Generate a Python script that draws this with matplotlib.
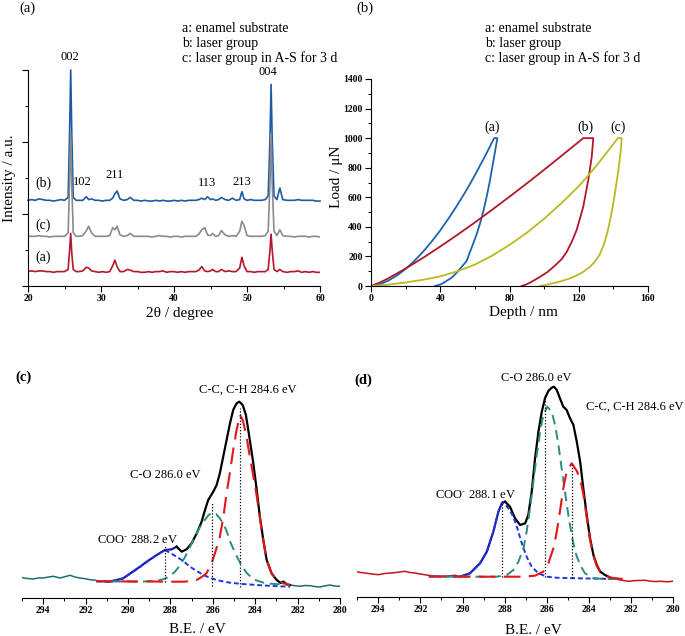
import numpy as np
import matplotlib
matplotlib.use("Agg")
import matplotlib.pyplot as plt
from matplotlib.ticker import MultipleLocator

plt.rcParams['font.family'] = ['Liberation Serif', 'DejaVu Serif']
plt.rcParams['mathtext.fontset'] = 'stix'

# ---------------- (a) XRD ----------------
two_theta = [20.0, 20.5, 21.0, 21.5, 22.0, 22.5, 23.0, 23.5, 24.0, 24.5,
             25.0, 25.5, 25.7, 25.85, 26.0, 26.2, 26.6, 27.0, 27.5, 28.0,
             28.3, 28.7, 29.2, 29.7, 30.2, 30.7, 31.2, 31.6, 31.9, 32.2,
             32.6, 33.1, 33.6, 34.0, 34.5, 35.0, 35.5, 36.0, 36.5, 37.0,
             37.5, 38.0, 38.5, 39.0, 39.5, 40.0, 40.5, 41.0, 41.5, 42.0,
             42.5, 43.0, 43.4, 43.8, 44.2, 44.6, 45.0, 45.3, 45.7, 46.1,
             46.5, 47.0, 47.5, 48.0, 48.5, 49.0, 49.3, 49.6, 50.0, 50.5,
             51.0, 51.5, 52.0, 52.5, 52.9, 53.15, 53.3, 53.45, 53.7, 54.1,
             54.5, 54.9, 55.5, 56.0, 56.5, 57.0, 57.5, 58.0, 58.5, 59.0,
             59.5, 60.0]
# enamel substrate
xrd_a = [.05, .06, .05, .06, .06, .05, .05, .04, .05, .05,
         .05, .08, .35, .58, .30, .08, .05, .05, .06, .11,
         .10, .06, .05, .04, .05, .04, .05, .13, .21, .12,
         .05, .05, .08, .07, .05, .05, .04, .04, .05, .04,
         .05, .05, .06, .04, .05, .05, .04, .05, .04, .05,
         .05, .05, .07, .12, .06, .05, .06, .08, .05, .05,
         .08, .05, .06, .05, .05, .10, .25, .13, .05, .05,
         .04, .05, .05, .05, .08, .35, .57, .35, .08, .05,
         .08, .05, .04, .05, .05, .06, .04, .05, .04, .05,
         .04, .04]
# laser group
xrd_b = [.04, .05, .04, .06, .05, .04, .04, .03, .04, .05,
         .04, .08, 1.00, 1.85, .95, .08, .04, .04, .04, .09,
         .05, .06, .04, .04, .03, .04, .04, .07, .13, .17,
         .06, .04, .05, .08, .04, .04, .03, .04, .03, .03,
         .04, .03, .04, .03, .03, .04, .03, .04, .03, .04,
         .04, .04, .05, .07, .05, .09, .05, .06, .04, .05,
         .08, .05, .04, .07, .04, .05, .16, .06, .04, .05,
         .04, .04, .04, .05, .10, .90, 1.65, .90, .10, .05,
         .21, .05, .04, .04, .04, .05, .04, .04, .04, .04,
         .03, .03]
# laser group in A-S for 3 d
xrd_c = [.05, .05, .05, .06, .05, .05, .04, .05, .05, .05,
         .05, .10, .80, 1.48, .75, .10, .05, .05, .06, .13,
         .19, .10, .05, .05, .05, .05, .06, .17, .14, .19,
         .07, .05, .06, .09, .05, .05, .05, .05, .05, .04,
         .05, .06, .05, .05, .04, .05, .05, .04, .05, .05,
         .05, .05, .08, .14, .17, .07, .06, .09, .05, .06,
         .13, .07, .05, .06, .05, .12, .26, .20, .06, .05,
         .05, .05, .05, .06, .12, .80, 1.48, .80, .12, .06,
         .14, .06, .05, .05, .04, .05, .05, .05, .04, .05,
         .05, .04]
xrd_offsets = {'a': 0.15, 'c': 0.64, 'b': 1.15}
hkl_labels = ['002', '102', '211', '113', '213', '004']
hkl_pos = [(25.75, 3.18), (27.5, 1.44), (31.9, 1.54), (44.5, 1.43), (49.3, 1.44), (52.9, 2.97)]

# ---------------- (b) nanoindentation ----------------
depth_a = [0, 5, 10, 15, 20, 25, 30, 35, 40, 45, 50, 55, 60, 65, 68, 71.1,
           73.0, 71.5, 70.0, 68.5, 66.8, 65.0, 63.0, 61.0, 59.1, 57.0, 55.3, 52.4,
           49.5, 46.5, 43.7, 40.5, 37.0]
load_a = [0, 11, 36, 71, 116, 169, 231, 300, 376, 460, 550, 646, 749, 859, 927, 1000,
          1000, 900, 800, 700, 604, 510, 424, 350, 289, 225, 170, 130,
          90, 55, 35, 12, 0]
depth_b = [0, 5, 10, 20, 30, 40, 50, 60, 70, 80, 90, 100, 110, 118, 122.6,
           128.4, 127.5, 125.5, 122.6, 118.8, 116.0, 113.0, 110.0, 106.0, 102.0,
           97.6, 93.0, 90.0, 87.0]
load_b = [0, 23, 52, 118, 190, 267, 347, 430, 516, 604, 694, 786, 880, 956, 1000,
          1000, 874, 717, 536, 379, 300, 230, 180, 135, 95,
          62, 30, 12, 0]
depth_c = [0, 10, 20, 30, 40, 50, 60, 70, 80, 90, 100, 110, 120, 126, 132, 137, 140, 142.5,
           144.8, 144.3, 143.5, 142.5, 141.2, 139.8, 138.2, 136.5, 134.5, 132.0, 129.0,
           126.0, 122.5, 119.0, 115.0, 110.0, 105.0, 101.0, 97.6]
load_c = [0, 9, 24, 42, 65, 100, 145, 205, 278, 360, 455, 560, 675, 755, 840, 915, 960, 1000,
          1000, 920, 840, 750, 650, 550, 450, 360, 280, 210, 160,
          125, 95, 72, 52, 33, 18, 7, 0]

# ---------------- (c) XPS C1s, enamel ----------------
raw_c_left_ev = [295.0, 294.75, 294.47, 294.2, 294.0, 293.75, 293.53, 293.21, 293.0, 292.74,
                 292.5, 292.27, 292.0, 291.8, 291.55, 291.33, 291.0]
raw_c_left_h = [20.3, 19.5, 19.0, 20.2, 20.0, 21.0, 21.7, 20.0, 21.2, 22.7,
                21.0, 20.0, 19.2, 18.3, 17.8, 16.7, 16.5]
env_c_ev = [291.0, 290.85, 290.23, 289.44, 289.12, 288.65, 288.26, 287.94, 287.71, 287.47, 287.24,
            287.0, 286.76, 286.53, 286.37, 286.22, 285.98, 285.82, 285.67, 285.51, 285.35,
            285.19, 285.04, 284.88, 284.75, 284.59, 284.44, 284.28, 284.09, 283.93, 283.78,
            283.62, 283.46, 283.23, 282.99, 282.8, 282.68, 282.5, 282.36]
env_c_h = [16.5, 16.3, 19.7, 31.3, 36.3, 43, 48, 48.7, 51.3, 46.3, 48.7,
           54.7, 64.7, 76.3, 88, 98, 106.3, 113, 124.7, 141.3, 158,
           174.7, 188, 194.7, 196.3, 193, 183, 161.3, 134.7, 108, 81.3,
           58, 38, 24.7, 18, 15.0, 16.5, 13.5, 13]
raw_c_right_ev = [282.36, 282.1, 281.89, 281.65, 281.42, 281.2, 280.95, 280.7, 280.48, 280.25, 280.0]
raw_c_right_h = [13, 12.2, 11.7, 12.5, 12.3, 11.5, 11, 12.2, 13, 12.0, 11.7]
coo_c_ev = [291.5, 290.85, 290.23, 289.44, 289.12, 288.65, 288.26, 287.71, 287.4, 287.08,
            286.76, 286.45, 286.1, 285.82, 285.5, 285.19, 284.6, 283.93, 283.2, 282.36]
coo_c_h = [16.7, 16.5, 19.5, 31, 36, 43, 48, 41.3, 37, 31.3,
           27, 23, 20, 18, 16.5, 15.3, 14, 13, 12, 11.3]
co_c_ev = [291.5, 290.5, 289.44, 288.65, 288.3, 288.02, 287.8, 287.55, 287.3, 287.08,
           286.85, 286.61, 286.4, 286.2, 286.03, 285.85, 285.67, 285.5, 285.35, 285.2,
           285.04, 284.88, 284.72, 284.55, 284.4, 284.15, 283.93, 283.6, 283.3, 282.9, 282.36]
co_c_h = [16.7, 16.5, 16.3, 17.2, 19, 22, 26, 32.5, 41.5, 51,
          61, 71, 77.5, 83, 85.3, 84, 79.7, 74, 67, 57,
          49.5, 42, 35.5, 29.5, 25, 20, 17.5, 15.3, 14.3, 13.8, 13]
cc_c_ev = [291.5, 289.0, 287.8, 287.39, 287.0, 286.76, 286.5, 286.3, 286.06, 285.9,
           285.67, 285.51, 285.35, 285.19, 285.04, 284.88, 284.72, 284.59, 284.44, 284.28,
           284.09, 283.93, 283.78, 283.62, 283.46, 283.23, 282.99, 282.68, 282.36]
cc_c_h = [16.7, 16.5, 16.3, 16.3, 17, 18, 21.5, 24.7, 34.7, 44.7,
          61.3, 80, 105, 126, 148, 168, 183, 178, 164.7, 144.7,
          122, 102, 80, 58, 38, 24.7, 18, 14.7, 13]
marks_c = [(288.26, 16.3, 53), (286.03, 11.7, 95.7), (284.72, 11.3, 189.7)]
labels_c = ['COO$^{\\text{-}}$ 288.2 eV', 'C-O 286.0 eV', 'C-C, C-H 284.6 eV']
labels_c_pos = [(289.58, 58), (288.26, 123), (284.34, 208)]

# ---------------- (d) XPS C1s, laser group ----------------
raw_d_left_ev = [295.1, 294.85, 294.63, 294.3, 294.0, 293.7, 293.37, 293.05, 292.73, 292.5,
                 292.26, 291.95, 291.63, 291.3, 291.0, 290.7, 290.36, 290.12]
raw_d_left_h = [25.7, 24.5, 24, 23.0, 22.3, 23.5, 24, 24.8, 25.7, 24.5,
                24, 22.8, 21.7, 21.0, 20.7, 21.0, 21.7, 20.3]
env_d_ev = [290.12, 289.65, 289.17, 288.85, 288.54, 288.30, 288.14, 287.98, 287.75, 287.51, 287.27,
            287.03, 286.88, 286.72, 286.56, 286.40, 286.24, 286.09, 285.93, 285.77, 285.66,
            285.53, 285.38, 285.22, 285.06, 284.90, 284.74, 284.58, 284.42, 284.27, 284.11,
            283.95, 283.79, 283.63, 283.47, 283.24, 283.0]
env_d_h = [20.3, 23.7, 33.7, 45.3, 65.3, 85.3, 93.7, 95.3, 90.3, 78.7, 72,
           73.7, 82, 105.3, 138.7, 165.3, 185.3, 198.7, 206, 209.3, 210.3,
           207, 198.7, 190.3, 187, 178.7, 172, 155.3, 135.3, 108.7, 82,
           58.7, 42, 32, 25.3, 22, 19.5]
raw_d_right_ev = [283.0, 282.75, 282.5, 282.13, 281.9, 281.7, 281.34, 281.1, 280.9, 280.55, 280.3, 280.05]
raw_d_right_h = [19.5, 18.0, 17, 15.7, 16.2, 16.5, 16.7, 15.8, 15.5, 15.7, 15.2, 15.7]
coo_d_ev = [291.6, 290.8, 290.12, 289.65, 289.17, 288.85, 288.54, 288.30, 288.11, 287.98,
            287.80, 287.59, 287.40, 287.19, 286.96, 286.72, 286.40, 286.01, 285.5, 284.5, 283.5, 282.6]
coo_d_h = [20.5, 20.3, 20.3, 23.7, 33.7, 45.3, 65.3, 85.3, 93.7, 92.5,
           88, 80.3, 68.7, 53.7, 40.3, 30.3, 23.7, 20.3, 19.2, 18.7, 18.3, 18]
co_d_ev = [291.6, 289.0, 288.38, 287.9, 287.59, 287.35, 287.11, 286.96, 286.80, 286.64,
           286.48, 286.32, 286.17, 285.98, 285.77, 285.61, 285.45, 285.30, 285.14, 284.98,
           284.82, 284.66, 284.42, 284.19, 283.79, 283.16, 282.6]
co_d_h = [20.5, 20.3, 20.3, 22, 27, 35.3, 48.7, 65.3, 88.7, 115.3,
          142, 165.3, 182, 190.3, 185.3, 172, 152, 128.7, 105.3, 82,
          62, 45.3, 32, 23.7, 18.7, 18, 18]
cc_d_ev = [291.6, 289.0, 287.11, 286.56, 286.17, 285.93, 285.69, 285.53, 285.38, 285.22,
           285.06, 284.82, 284.58, 284.42, 284.27, 284.11, 283.95, 283.79, 283.63, 283.47,
           283.24, 283.0, 282.68, 282.4]
cc_d_h = [20.5, 20.3, 20.3, 21.3, 25.3, 33.7, 48.7, 65.3, 85.3, 108.7,
          125.3, 133.7, 126, 118, 103, 80, 57, 41, 31, 25.3,
          21.5, 19.5, 18.7, 18]
marks_d = [(288.11, 20.3, 97), (286.09, 20, 202), (284.82, 18.7, 133.7)]
labels_d = ['COO$^{\\text{-}}$ 288.1 eV', 'C-O 286.0 eV', 'C-C, C-H 284.6 eV']
labels_d_pos = [(289.41, 102), (286.48, 218.7), (281.82, 190.3)]

legend_lines = ['a: enamel substrate', 'b: laser group', 'c: laser group in A-S for 3 d']

W, H = 685, 636
fig = plt.figure(figsize=(W / 100, H / 100), dpi=100)


def fpos(x, y):
    return x / W, 1 - y / H


def style_ticks(ax, size=7):
    ax.tick_params(which='major', direction='out', length=4, width=0.8, labelsize=size, pad=2)
    ax.tick_params(which='minor', direction='out', length=2.2, width=0.7)
    for lab in ax.get_xticklabels() + ax.get_yticklabels():
        lab.set_fontweight('bold')


# ---- (a)
ax = fig.add_axes([28 / W, 1 - 286 / H, 292 / W, 216 / H])
ax.plot(two_theta, np.array(xrd_b) + xrd_offsets['b'], color='#1c5aa6', lw=1.2, clip_on=False)
ax.plot(two_theta, np.array(xrd_c) + xrd_offsets['c'], color='#8a8a8a', lw=1.2)
ax.plot(two_theta, np.array(xrd_a) + xrd_offsets['a'], color='#b2182b', lw=1.2)
ax.set_xlim(20, 60)
ax.set_ylim(0, 3)
ax.spines['top'].set_visible(False)
ax.spines['right'].set_visible(False)
ax.xaxis.set_major_locator(MultipleLocator(10))
ax.xaxis.set_minor_locator(MultipleLocator(5))
ax.yaxis.set_major_locator(MultipleLocator(1))
ax.yaxis.set_minor_locator(MultipleLocator(0.5))
ax.tick_params(labelleft=False)
style_ticks(ax)
for t, (x, y) in zip(hkl_labels, hkl_pos):
    ax.text(x, y, t, ha='center', va='center', fontsize=9, clip_on=False)
for t, y in zip(['(b)', '(c)', '(a)'], [1.43, 0.85, 0.40]):
    ax.text(22.05, y, t, ha='center', va='center', fontsize=10)
ax.text(-0.062, 0.5, 'Intensity / a.u.', transform=ax.transAxes, rotation=90,
        ha='center', va='center', fontsize=11)
ax.text(0.52, -0.125, '2θ / degree', transform=ax.transAxes, ha='center', va='center', fontsize=11)

# ---- (b)
bx = fig.add_axes([371 / W, 1 - 286 / H, 277 / W, 207 / H])
bx.plot(depth_a, load_a, color='#1f62ad', lw=1.3)
bx.plot(depth_b, load_b, color='#b0182a', lw=1.3)
bx.plot(depth_c, load_c, color='#b9b925', lw=1.3)
bx.set_xlim(0, 160)
bx.set_ylim(0, 1400)
bx.spines['top'].set_visible(False)
bx.spines['right'].set_visible(False)
bx.xaxis.set_major_locator(MultipleLocator(40))
bx.xaxis.set_minor_locator(MultipleLocator(20))
bx.yaxis.set_major_locator(MultipleLocator(200))
bx.yaxis.set_minor_locator(MultipleLocator(100))
style_ticks(bx)
for t, x in zip(['(a)', '(b)', '(c)'], [69.7, 123.6, 142.9]):
    bx.text(x, 1077, t, ha='center', va='center', fontsize=10)
bx.text(-0.123, 0.527, 'Load / μN', transform=bx.transAxes, rotation=90,
        ha='center', va='center', fontsize=11)
bx.text(0.549, -0.126, 'Depth / nm', transform=bx.transAxes, ha='center', va='center', fontsize=11)

for x0 in (182, 485):
    for i, t in enumerate(legend_lines):
        fig.text(*fpos(x0, 28 + 15 * i), t, ha='left', va='center', fontsize=10)

fig.text(*fpos(27, 8), '(a)', ha='center', va='center', fontsize=10.5)
fig.text(*fpos(365, 8), '(b)', ha='center', va='center', fontsize=10.5)


# ---- (c) / (d)
def xps_panel(rect, raw_l, env, raw_r, raw_col, coo, co, cc, marks, labels, label_pos):
    a = fig.add_axes(rect)
    a.plot(*raw_l, color=raw_col, lw=1.1)
    a.plot(*raw_r, color=raw_col, lw=1.1)
    ev, h = env
    k = int(np.argmax(np.array(h[:10])))
    a.plot(ev[:k + 1], h[:k + 1], color='#1a1a9a', lw=1.6)
    a.plot(ev[k:], h[k:], color='black', lw=1.6)
    a.plot(*coo, color='#2233dd', lw=1.4, dashes=(2.5, 1.5))
    a.plot(*co, color='#2a8c80', lw=1.4, dashes=(5, 3))
    a.plot(*cc, color='#e3161b', lw=1.5, dashes=(8, 4))
    for x, y0, y1 in marks:
        a.plot([x, x], [y0, y1], color='black', lw=0.9, ls=(0, (1, 1.5)))
    for t, (x, y) in zip(labels, label_pos):
        a.text(x, y, t, ha='center', va='center', fontsize=9)
    a.set_xlim(295, 280)
    a.set_ylim(0, 220)
    for s in ('top', 'right', 'left'):
        a.spines[s].set_visible(False)
    a.set_yticks([])
    a.xaxis.set_major_locator(MultipleLocator(2))
    a.xaxis.set_minor_locator(MultipleLocator(1))
    style_ticks(a)
    return a


cx = xps_panel([22.1 / W, 1 - 598 / H, 317.9 / W, 220 / H],
               (raw_c_left_ev, raw_c_left_h), (env_c_ev, env_c_h), (raw_c_right_ev, raw_c_right_h),
               '#1d6f6a', (coo_c_ev, coo_c_h), (co_c_ev, co_c_h), (cc_c_ev, cc_c_h),
               marks_c, labels_c, labels_c_pos)
cx.text(0.55, -0.145, 'B.E. / eV', transform=cx.transAxes, ha='center', va='center', fontsize=11)

dx = xps_panel([357.2 / W, 1 - 597 / H, 316.1 / W, 220 / H],
               (raw_d_left_ev, raw_d_left_h), (env_d_ev, env_d_h), (raw_d_right_ev, raw_d_right_h),
               '#c0161c', (coo_d_ev, coo_d_h), (co_d_ev, co_d_h), (cc_d_ev, cc_d_h),
               marks_d, labels_d, labels_d_pos)
dx.text(0.557, -0.15, 'B.E. / eV', transform=dx.transAxes, ha='center', va='center', fontsize=11)

fig.text(*fpos(23, 377), '(c)', ha='center', va='center', fontsize=10.5, fontweight='bold')
fig.text(*fpos(363, 380), '(d)', ha='center', va='center', fontsize=10.5, fontweight='bold')

fig.savefig('out.png', dpi=100)
